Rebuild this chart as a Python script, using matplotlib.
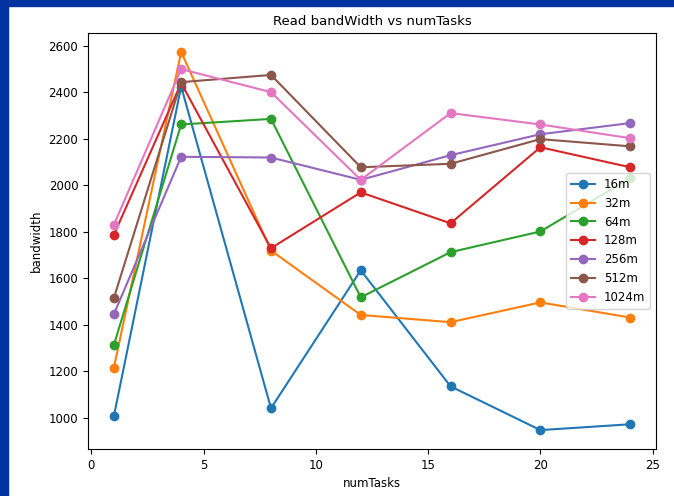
import matplotlib
matplotlib.use("Agg")
import matplotlib.pyplot as plt
from matplotlib.patches import Rectangle

# data
num_tasks = [1, 4, 8, 12, 16, 20, 24]
bw_16m = [1007, 2425, 1042, 1635, 1136, 948, 973]
bw_32m = [1215, 2574, 1720, 1443, 1412, 1497, 1432]
bw_64m = [1313, 2262, 2286, 1519, 1713, 1802, 2031]
bw_128m = [1787, 2440, 1730, 1970, 1837, 2164, 2078]
bw_256m = [1446, 2123, 2120, 2024, 2130, 2220, 2268]
bw_512m = [1515, 2444, 2475, 2078, 2093, 2199, 2168]
bw_1024m = [1830, 2500, 2401, 2024, 2311, 2262, 2203]
sizes = ["16m", "32m", "64m", "128m", "256m", "512m", "1024m"]

fig = plt.figure(figsize=(6.74, 4.96), dpi=100)

# blue screenshot frame on top and left
fig.patches.append(Rectangle((0, 0), 8 / 674, 1, transform=fig.transFigure,
                             color="#0033a0", zorder=-1))
fig.patches.append(Rectangle((0, 1 - 6 / 496), 1, 6 / 496, transform=fig.transFigure,
                             color="#0033a0", zorder=-1))

ax = fig.add_axes([88 / 674, 1 - 449 / 496, 568 / 674, 416 / 496])

series = [bw_16m, bw_32m, bw_64m, bw_128m, bw_256m, bw_512m, bw_1024m]
for vals, lab in zip(series, sizes):
    ax.plot(num_tasks, vals, marker="o", label=lab)

ax.set_title("Read bandWidth vs numTasks", fontsize=9.5)
ax.set_xlabel("numTasks", fontsize=8.5)
ax.set_ylabel("bandwidth", fontsize=8.5)
ax.tick_params(labelsize=8.5)
ax.legend(loc="center right", fontsize=8.5)

fig.savefig("out.png", dpi=100)
